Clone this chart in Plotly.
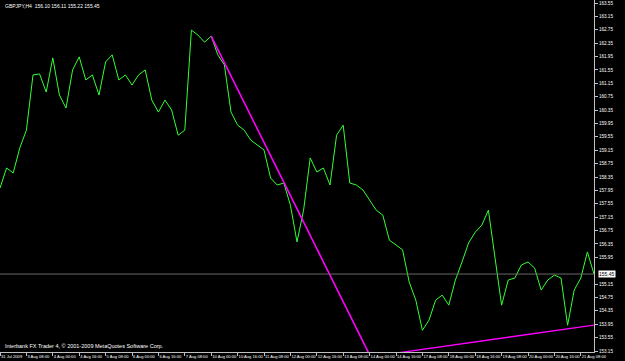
import plotly.graph_objects as go

# GBPJPY H4 closing prices (bar 0 = 31 Jul 2009 16:00)
closes = [
    158.02, 158.62, 158.47, 159.22, 159.75, 161.40, 161.43, 160.89, 161.91, 160.80,
    160.41, 161.55, 161.94, 161.25, 161.40, 160.80, 161.79, 162.00, 161.25, 161.40,
    161.10, 161.40, 161.55, 160.65, 160.29, 160.65, 160.35, 159.60, 159.75, 162.74,
    162.59, 162.38, 162.56, 162.00, 161.70, 160.29, 159.90, 159.75, 159.45, 159.30,
    159.16, 158.32, 158.11, 158.17, 157.51, 156.41, 157.36, 158.92, 158.50, 158.62,
    158.11, 159.60, 159.90, 158.17, 158.11, 157.96, 157.66, 157.36, 157.21, 156.46,
    156.32, 156.17, 155.21, 154.67, 153.77, 154.07, 154.67, 154.82, 154.52, 155.27,
    155.81, 156.38, 156.70, 156.91, 157.36, 155.87, 154.52, 155.27, 155.33, 155.72,
    155.81, 155.63, 154.97, 155.27, 155.42, 155.33, 153.92, 154.97, 155.33, 156.11,
    155.45,
]
bars = list(range(len(closes)))

# Trendlines: (bar, price) pairs
trend1_bars = [32, 58]
trend1_prices = [162.56, 152.24]
trend2_bars = [58, 92]
trend2_prices = [153.03, 153.98]

current_price = 155.45
title_text = "GBPJPY,H4  156.10 156.11 155.22 155.45"
copyright_text = "Interbank FX Trader 4, \u00a9 2001-2009 MetaQuotes Software Corp."

tick_bars = list(range(0, 89, 4))
tick_labels = [
    "31 Jul 2009", "3 Aug 08:00", "4 Aug 00:00", "4 Aug 16:00", "5 Aug 08:00",
    "6 Aug 00:00", "6 Aug 16:00", "7 Aug 08:00", "10 Aug 00:00", "10 Aug 16:00",
    "11 Aug 08:00", "12 Aug 00:00", "12 Aug 16:00", "13 Aug 08:00", "14 Aug 00:00",
    "14 Aug 16:00", "17 Aug 08:00", "18 Aug 00:00", "18 Aug 16:00", "19 Aug 08:00",
    "20 Aug 00:00", "20 Aug 16:00", "21 Aug 08:00",
]
price_ticks = [153.15, 153.55, 153.95, 154.35, 154.75, 155.15, 155.95, 156.35,
               156.75, 157.15, 157.55, 157.95, 158.35, 158.75, 159.15, 159.55,
               159.95, 160.35, 160.75, 161.15, 161.55, 161.95, 162.35, 162.75,
               163.15, 163.55]

FONT = "Liberation Sans"

fig = go.Figure()
fig.add_trace(go.Scatter(x=bars, y=closes, mode="lines",
                         line=dict(color="#33ff33", width=1), hoverinfo="skip"))
fig.add_trace(go.Scatter(x=trend1_bars, y=trend1_prices, mode="lines",
                         line=dict(color="#ff00ff", width=1.6), hoverinfo="skip"))
fig.add_trace(go.Scatter(x=trend2_bars, y=trend2_prices, mode="lines",
                         line=dict(color="#ff00ff", width=1.3), hoverinfo="skip"))

fig.add_shape(type="line", xref="paper", x0=0, x1=1, yref="y",
              y0=current_price, y1=current_price,
              line=dict(color="#6a6a6a", width=1))

fig.add_annotation(xref="paper", x=1.0, yref="y", y=current_price, text="155.45",
                   showarrow=False, xanchor="left", xshift=4, bgcolor="#ffffff",
                   font=dict(family=FONT, size=5, color="#000000"), borderpad=0)
fig.add_annotation(xref="paper", x=0.0, yref="paper", y=1.0, text=title_text,
                   showarrow=False, xanchor="left", yanchor="top", xshift=3, yshift=-1,
                   font=dict(family=FONT, size=5, color="#ffffff"))
fig.add_annotation(xref="paper", x=0.0, yref="paper", y=0.0, text=copyright_text,
                   showarrow=False, xanchor="left", yanchor="bottom", xshift=3, yshift=1,
                   font=dict(family=FONT, size=5.5, color="#ffffff"))

fig.update_layout(
    width=625, height=361,
    margin=dict(l=0, r=31, t=0, b=9),
    paper_bgcolor="#000000", plot_bgcolor="#000000",
    showlegend=False,
)
fig.update_xaxes(
    range=[0, 90], tickmode="array", tickvals=tick_bars, ticktext=tick_labels,
    ticks="outside", ticklen=3, tickcolor="#c0c0c0", tickangle=0,
    ticklabelposition="outside right", automargin=False,
    tickfont=dict(family=FONT, size=4.1, color="#ffffff"),
    showgrid=False, zeroline=False, showline=True, linecolor="#c0c0c0",
    linewidth=1, mirror=True,
)
fig.update_yaxes(
    range=[153.12, 163.64], side="right", tickmode="array", tickvals=price_ticks,
    ticktext=[f"{v:.2f}" for v in price_ticks], automargin=False,
    ticks="outside", ticklen=3, tickcolor="#c0c0c0",
    tickfont=dict(family=FONT, size=4.6, color="#ffffff"),
    showgrid=False, zeroline=False, showline=True, linecolor="#c0c0c0",
    linewidth=1, mirror=True,
)

fig.write_html("out.html")
